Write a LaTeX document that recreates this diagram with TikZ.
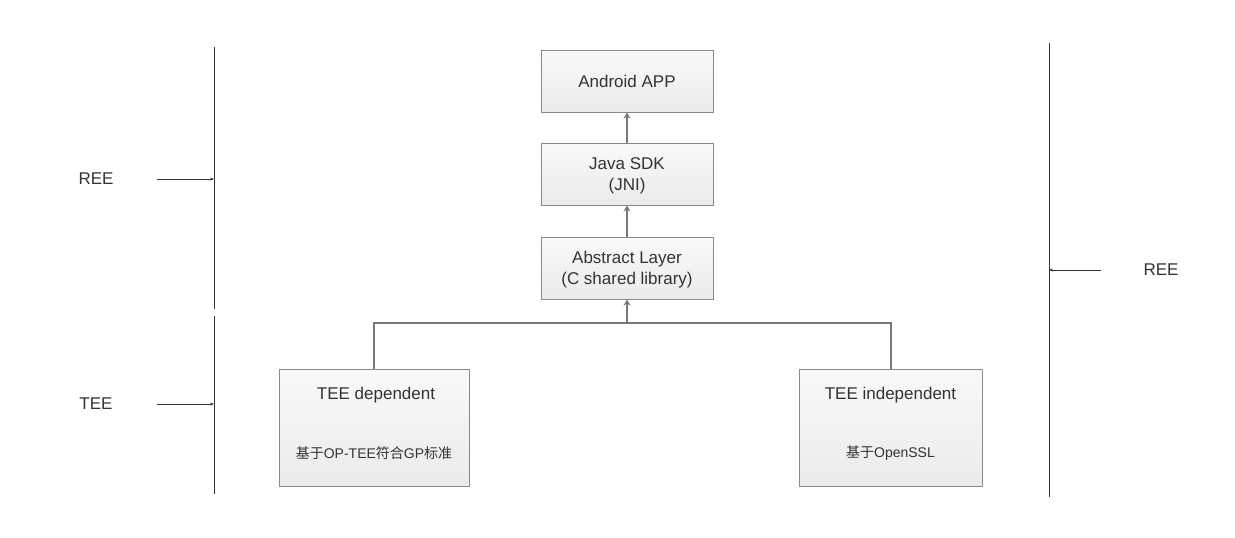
\documentclass[tikz,border=0pt]{standalone}
\usepackage{fontspec}
\setmainfont{Liberation Sans}
\newfontfamily\cjk{Noto Sans CJK SC}
\usetikzlibrary{arrows.meta, positioning}
\definecolor{txtgray}{HTML}{333333}
\definecolor{linkgray}{HTML}{777777}
\definecolor{boxedge}{HTML}{8A8A8A}
\definecolor{boxtop}{HTML}{F9F9F9}
\definecolor{boxbot}{HTML}{EBEBEB}
\tikzset{
    layer/.style={draw=boxedge, line width=1pt, top color=boxtop, bottom color=boxbot,
        align=center, text=txtgray, inner sep=0pt, font=\fontsize{17}{21}\selectfont},
    twoline/.style={text depth=-4pt},
    link/.style={draw=linkgray, line width=2pt},
    uplink/.style={link, -{Stealth[length=6pt, width=7pt]}},
    side/.style={draw=txtgray, line width=1pt},
    sidearrow/.style={draw=txtgray, line width=0.8pt, -{Stealth[length=4pt, width=3pt]}}
}

\begin{document}
\begin{tikzpicture}[x=1pt, y=-1pt]
    \tikzstyle{title}=[text=txtgray, font=\fontsize{17}{21}\selectfont, inner sep=0pt];
    \tikzstyle{note}=[text=txtgray, font=\fontsize{14}{17}\selectfont, inner sep=0pt];
    \useasboundingbox (0,0) rectangle (1235,538);
    % software stack
    \node[layer, minimum width=172pt, minimum height=62pt] (app) at (627,81) {Android APP};
    \node[layer, twoline, minimum width=172pt, minimum height=62pt] (sdk) at (627,174) {Java SDK\\(JNI)};
    \node[layer, twoline, minimum width=172pt, minimum height=62pt] (abs) at (627,268) {Abstract Layer\\(C shared library)};
    \node[layer, minimum width=190pt, minimum height=117pt] (dep) at (374,427.5) {};
    \node[layer, minimum width=183pt, minimum height=117pt] (ind) at (890.5,427.5) {};
    \node[title] (depname) at (376,395) {TEE dependent};
    \node[note] (depnote) at (374,453) {{\cjk 基于}OP-TEE{\cjk 符合}GP{\cjk 标准}};
    \node[title] (indname) at (890.5,395) {TEE independent};
    \node[note] (indnote) at (890.5,453) {{\cjk 基于}OpenSSL};
    \draw[uplink] (sdk) -- (app);
    \draw[uplink] (abs) -- (sdk);
    \coordinate (bus) at (627,322.5);
    \draw[link] (dep.north) -- (dep.north |- bus) -- (ind.north |- bus) -- (ind.north);
    \draw[uplink] (bus) -- (abs.south);
    % REE / TEE marks
    \coordinate (lt) at (214,47);
    \coordinate (lm1) at (214,309);
    \coordinate (lm2) at (214,316);
    \coordinate (lb) at (214,494);
    \coordinate (rt) at (1049,43);
    \coordinate (rb) at (1049,497);
    \draw[side] (lt) -- (lm1);
    \draw[side] (lm2) -- (lb);
    \draw[side] (rt) -- (rb);
    \node[title] (reeleft) at (96,179) {REE};
    \node[title] (teeleft) at (96,404) {TEE};
    \node[title] (reeright) at (1161,270) {REE};
    \coordinate (reetail) at (157,179);
    \coordinate (teetail) at (157,404);
    \coordinate (rightail) at (1101,270);
    \draw[sidearrow] (reetail) -- (reetail -| lt);
    \draw[sidearrow] (teetail) -- (teetail -| lb);
    \draw[sidearrow] (rightail) -- (rightail -| rt);
\end{tikzpicture}
\end{document}
